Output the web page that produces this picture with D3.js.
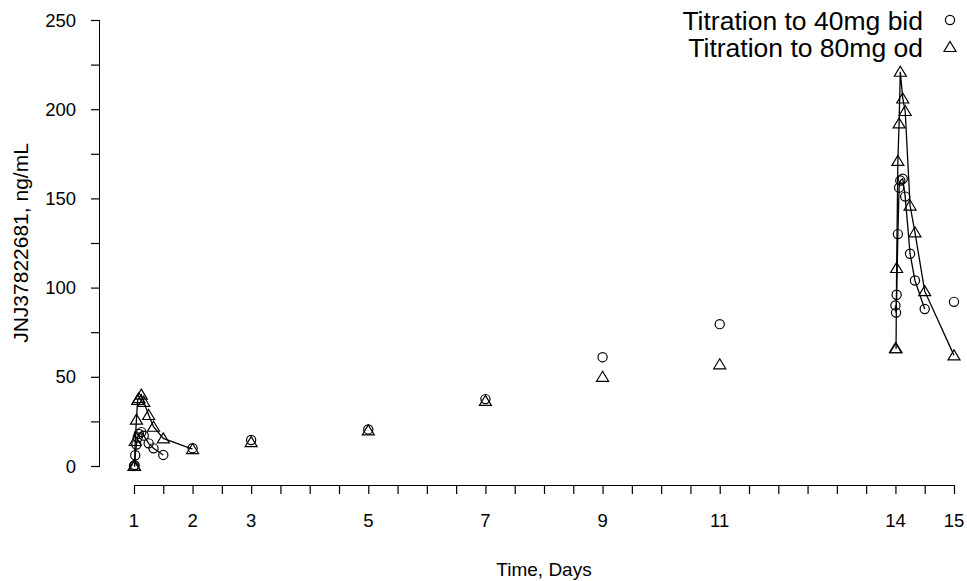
<!DOCTYPE html>
<html>
<head>
<meta charset="utf-8">
<script src="https://cdn.jsdelivr.net/npm/d3@7"></script>
<style>
  body { margin: 0; background: #fff; }
  text { font-family: "Liberation Sans", Arial, sans-serif; fill: #000; }
</style>
</head>
<body>
<div id="chart"></div>
<script>
var w = 967;
var h = 581;

// sampling hours within a profile day
var hours = [0, 0.25, 0.5, 1, 1.5, 2, 3, 4, 6, 8, 12, 24];

// Titration to 40mg bid (circles), profiles end at 12h
var bidDay1 = [0, 0.5, 6, 12, 16, 18, 19, 17, 12.7, 9.9, 6.2];
var bidDay14 = [90, 86, 96, 130, 156, 160, 161, 151, 119, 104, 88];
var bidTroughDays = [2, 3, 5, 7, 9, 11, 15];
var bidTrough = [10, 14.6, 20.5, 37.5, 61, 79.5, 92];

// Titration to 80mg od (triangles), profiles run to 24h
var odDay1 = [0, 0, 14, 26, 37, 38, 40, 36, 28.6, 22, 15.5, 9.5];
var odDay14 = [66, 66, 111, 171, 192, 221, 206, 199, 146, 131, 98, 62];
var odTroughDays = [3, 5, 7, 9, 11];
var odTrough = [13.4, 20, 36.5, 50, 57];

var xTickLabels = [1, 2, 3, 5, 7, 9, 11, 14, 15];
var legendLabels = ['Titration to 40mg bid', 'Titration to 80mg od'];

var x = d3.scaleLinear().domain([1, 15]).range([134, 954]);
var y = d3.scaleLinear().domain([0, 250]).range([466, 20]);

function profile(day, vals) {
  return vals.map(function (v, i) {
    return { t: day + hours[i] / 24, v: v };
  });
}
function points(days, vals) {
  return vals.map(function (v, i) {
    return { t: days[i], v: v };
  });
}

var bidProfiles = [profile(1, bidDay1), profile(14, bidDay14)];
var odProfiles = [profile(1, odDay1), profile(14, odDay14)];
var bidPts = bidProfiles[0].concat(bidProfiles[1], points(bidTroughDays, bidTrough));
var odPts = odProfiles[0].concat(odProfiles[1], points(odTroughDays, odTrough));

var svg = d3.select('#chart')
  .append('svg')
  .attr('width', w)
  .attr('height', h);

// axes
var xAxis = svg.append('g')
  .attr('transform', 'translate(0,485)')
  .call(d3.axisBottom(x).tickValues(d3.range(1, 15.01, 0.5)).tickSize(9).tickFormat(''));
xAxis.select('.domain').attr('d', 'M' + x(1) + ',0.5H' + x(15));
xAxis.selectAll('line').attr('stroke-width', 1.2);

svg.selectAll('text.xlab')
  .data(xTickLabels)
  .enter()
  .append('text')
  .attr('class', 'xlab')
  .attr('x', function (d) { return x(d); })
  .attr('y', 527)
  .attr('text-anchor', 'middle')
  .style('font-size', '18.5px')
  .text(function (d) { return d; });

var yAxis = svg.append('g')
  .attr('transform', 'translate(100,0)')
  .call(d3.axisLeft(y).tickValues(d3.range(0, 251, 25)).tickSize(9).tickFormat(''));
yAxis.select('.domain').attr('d', 'M-0.5,' + y(0) + 'V' + y(250));
yAxis.selectAll('line').attr('stroke-width', 1.2);

svg.selectAll('text.ylab')
  .data(d3.range(0, 251, 50))
  .enter()
  .append('text')
  .attr('class', 'ylab')
  .attr('x', 76)
  .attr('y', function (d) { return y(d) + 6.5; })
  .attr('text-anchor', 'end')
  .style('font-size', '18.5px')
  .text(function (d) { return d; });

svg.append('text')
  .attr('x', 544)
  .attr('y', 576)
  .attr('text-anchor', 'middle')
  .style('font-size', '19px')
  .text('Time, Days');

svg.append('text')
  .attr('transform', 'translate(28,243) rotate(-90)')
  .attr('text-anchor', 'middle')
  .style('font-size', '21px')
  .text('JNJ37822681, ng/mL');

// lines
var line = d3.line()
  .x(function (d) { return x(d.t); })
  .y(function (d) { return y(d.v); });

svg.selectAll('path.prof')
  .data(bidProfiles.concat(odProfiles))
  .enter()
  .append('path')
  .attr('class', 'prof')
  .attr('d', line)
  .attr('fill', 'none')
  .attr('stroke', '#000')
  .attr('stroke-width', 1.3);

// markers
var tri = 'M0,-5.5L6,4.5L-6,4.5Z';

svg.selectAll('circle.bid')
  .data(bidPts)
  .enter()
  .append('circle')
  .attr('class', 'bid')
  .attr('cx', function (d) { return x(d.t); })
  .attr('cy', function (d) { return y(d.v); })
  .attr('r', 4.6)
  .attr('fill', 'none')
  .attr('stroke', '#000')
  .attr('stroke-width', 1.2);

svg.selectAll('path.od')
  .data(odPts)
  .enter()
  .append('path')
  .attr('class', 'od')
  .attr('transform', function (d) { return 'translate(' + x(d.t) + ',' + y(d.v) + ')'; })
  .attr('d', tri)
  .attr('fill', 'none')
  .attr('stroke', '#000')
  .attr('stroke-width', 1.2);

// legend
var legend = svg.selectAll('g.leg')
  .data(legendLabels)
  .enter()
  .append('g')
  .attr('class', 'leg')
  .attr('transform', function (d, i) { return 'translate(0,' + (i * 27) + ')'; });

legend.append('text')
  .attr('x', 923)
  .attr('y', 30)
  .attr('text-anchor', 'end')
  .style('font-size', '26.5px')
  .text(function (d) { return d; });

legend.filter(function (d, i) { return i === 0; })
  .append('circle')
  .attr('cx', 950)
  .attr('cy', 20)
  .attr('r', 4.6)
  .attr('fill', 'none')
  .attr('stroke', '#000')
  .attr('stroke-width', 1.2);

legend.filter(function (d, i) { return i === 1; })
  .append('path')
  .attr('transform', 'translate(950,20)')
  .attr('d', tri)
  .attr('fill', 'none')
  .attr('stroke', '#000')
  .attr('stroke-width', 1.2);
</script>
</body>
</html>
